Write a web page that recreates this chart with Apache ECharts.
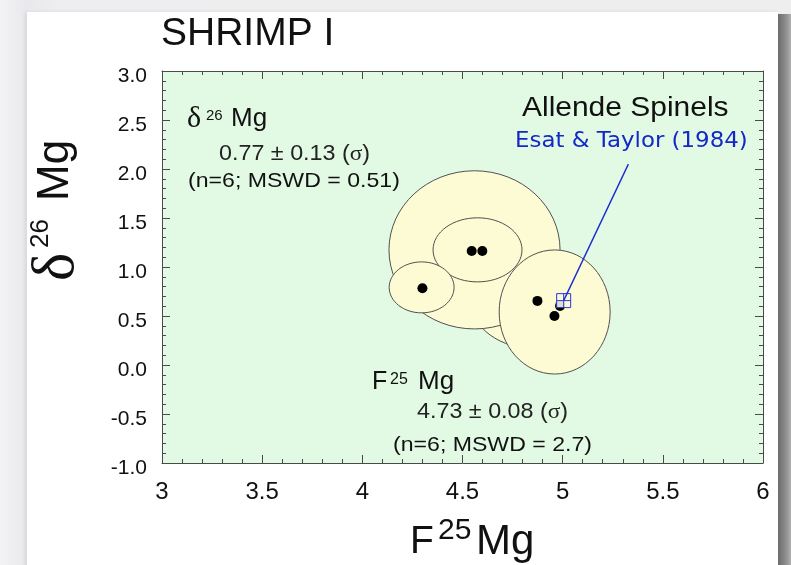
<!DOCTYPE html>
<html>
<head>
<meta charset="utf-8">
<script src="https://cdn.jsdelivr.net/npm/echarts@6/dist/echarts.min.js"></script>
<style>
  html, body { margin: 0; padding: 0; }
  body { width: 791px; height: 565px; overflow: hidden; position: relative;
         background: linear-gradient(to right, #f3f3f5 0px, #e9e9ed 26px, #eeeef0 60px, #eeeeee 100%); }
  #panel { position: absolute; left: 27px; top: 12px; width: 751px; height: 560px; background: #ffffff;
           box-shadow: -2px 0 4px rgba(0,0,0,0.08); }
  #shade { position: absolute; left: 778px; top: 14px; width: 13px; height: 560px;
           background: linear-gradient(to right, #6c6c6c, #8e8e8e 60%, #b0b0b0); }
  #chart { position: absolute; left: 0; top: 0; width: 791px; height: 565px; }
</style>
</head>
<body>
<div id="panel"></div>
<div id="shade"></div>
<div id="chart"></div>
<script>
// Allende spinel spots: F25Mg vs delta26Mg
const spotF = [4.300, 4.546, 4.599, 4.874, 4.987, 4.959];
const spotD = [0.783, 1.164, 1.164, 0.654, 0.603, 0.500];

// error ellipses (centre and half-widths, in axis units), drawn back to front
const ellF  = [4.872, 4.560, 4.575, 4.296, 4.960];
const ellD  = [0.654, 1.175, 1.175, 0.792, 0.541];
const ellRF = [0.331, 0.427, 0.222, 0.162, 0.277];
const ellRD = [0.492, 0.807, 0.327, 0.260, 0.633];

// Esat & Taylor (1984) value and its label pointer
const esatF = [5.005];
const esatD = [0.657];
const pointerF = [5.005, 5.328];
const pointerD = [0.657, 2.050];

const xTickLabels = ['3', '3.5', '4', '4.5', '5', '5.5', '6'];
const yTickLabels = ['-1.0', '-0.5', '0.0', '0.5', '1.0', '1.5', '2.0', '2.5', '3.0'];

const SANS = '"Liberation Sans", Arial, Helvetica, sans-serif';
const SERIF = '"Liberation Serif", "Times New Roman", serif';
const AXIS = '#4a4a4a';

const ellipseRows = ellF.map((f, i) => [f, ellD[i], ellRF[i], ellRD[i]]);
const spotRows = spotF.map((f, i) => [f, spotD[i]]);
const esatRows = esatF.map((f, i) => [f, esatD[i]]);
const pointerRows = pointerF.map((f, i) => [f, pointerD[i]]);

function txt(text, x, y, size, o) {
  o = o || {};
  return {
    type: 'text', x: x, y: y, scaleX: o.sx || 1, rotation: o.rot || 0, z: 100,
    style: {
      text: text, fontSize: size, fontFamily: o.family || SANS, fill: o.color || '#111',
      align: 'left', verticalAlign: 'middle', rich: o.rich
    }
  };
}
const sigma = (size) => ({ s: { fontFamily: SERIF, fontSize: size, fill: '#222' } });

function axisCommon(extra) {
  return Object.assign({
    type: 'value',
    axisLine: { show: true, onZero: false, lineStyle: { color: AXIS, width: 1 } },
    axisTick: { show: true, inside: true, length: 8, lineStyle: { color: AXIS, width: 1 } },
    minorTick: { show: true, splitNumber: 5, length: 4, lineStyle: { color: AXIS, width: 1 } },
    splitLine: { show: false }
  }, extra);
}

const chart = echarts.init(document.getElementById('chart'), null, { renderer: 'canvas' });
chart.setOption({
  animation: false,
  backgroundColor: 'transparent',
  grid: { left: 162, right: 28, top: 71, bottom: 102, show: true, backgroundColor: '#e2fae4', borderWidth: 0 },
  xAxis: [
    axisCommon({ min: 3, max: 6, interval: 0.5, position: 'bottom',
      axisLabel: { fontSize: 24, color: '#111', fontFamily: SANS, margin: 17,
        formatter: v => xTickLabels[Math.round((v - 3) / 0.5)] } }),
    axisCommon({ min: 3, max: 6, interval: 0.5, position: 'top', axisLabel: { show: false } })
  ],
  yAxis: [
    axisCommon({ min: -1, max: 3, interval: 0.5, position: 'left',
      axisLabel: { fontSize: 21, color: '#111', fontFamily: SANS, margin: 15,
        verticalAlign: 'top', lineHeight: 10,
        formatter: v => yTickLabels[Math.round((v + 1) / 0.5)] } }),
    axisCommon({ min: -1, max: 3, interval: 0.5, position: 'right', axisLabel: { show: false } })
  ],
  series: [
    {
      type: 'custom', xAxisIndex: 0, yAxisIndex: 0, z: 2,
      data: ellipseRows,
      encode: { x: 0, y: 1 },
      renderItem: function (params, api) {
        const c = api.coord([api.value(0), api.value(1)]);
        const s = api.size([api.value(2), api.value(3)]);
        return {
          type: 'ellipse',
          shape: { cx: c[0], cy: c[1], rx: s[0], ry: s[1] },
          style: { fill: '#fdfbd3', stroke: '#505050', lineWidth: 1 }
        };
      }
    },
    {
      type: 'scatter', z: 3, data: spotRows, symbol: 'circle', symbolSize: 10,
      itemStyle: { color: '#000000', opacity: 1 }
    },
    {
      type: 'scatter', z: 4, data: esatRows, symbolSize: 14,
      symbol: 'path://M0,0H12V12H0Z M6,0V12 M0,6H12',
      itemStyle: { color: 'rgba(250,248,220,0.9)', borderColor: '#2b37d6', borderWidth: 1, opacity: 1 }
    },
    {
      type: 'line', z: 5, data: pointerRows, symbol: 'none',
      lineStyle: { color: '#1d2bd0', width: 1.4 }
    }
  ],
  graphic: [
    txt('SHRIMP I', 161, 34, 39),

    // delta-26 summary
    txt('δ', 187, 119, 30, { family: SERIF }),
    txt('26', 206, 116, 15),
    txt('Mg', 231, 119, 26),
    txt('0.77 ± 0.13 ({s|σ})', 219, 154, 22, { sx: 1.06, rich: sigma(22), color: '#222' }),
    txt('(n=6; MSWD = 0.51)', 188, 181, 21, { sx: 1.1, color: '#111' }),

    // F-25 summary
    txt('F', 372, 382, 25),
    txt('25', 390, 380, 16),
    txt('Mg', 418, 382, 26),
    txt('4.73 ± 0.08 ({s|σ})', 417, 412, 22, { sx: 1.06, rich: sigma(22), color: '#222' }),
    txt('(n=6; MSWD = 2.7)', 393, 445, 21, { sx: 1.1, color: '#111' }),

    // literature comparison
    txt('Allende Spinels', 522, 108, 28, { sx: 1.07 }),
    txt('Esat & Taylor (1984)', 515, 142, 21, { sx: 1.09, family: '"DejaVu Sans", Verdana, sans-serif', color: '#1428c8' }),

    // x axis title
    txt('F', 410, 542, 39),
    txt('25', 438, 531, 30),
    txt('Mg', 476, 542, 42),

    // y axis title, reading bottom to top
    {
      type: 'group', x: 0, y: 281, rotation: Math.PI / 2, z: 100,
      children: [
        txt('δ', 0, 57, 60, { family: SERIF }),
        txt('26', 33, 41, 26),
        txt('Mg', 80, 56, 44)
      ]
    }
  ]
});
</script>
</body>
</html>
